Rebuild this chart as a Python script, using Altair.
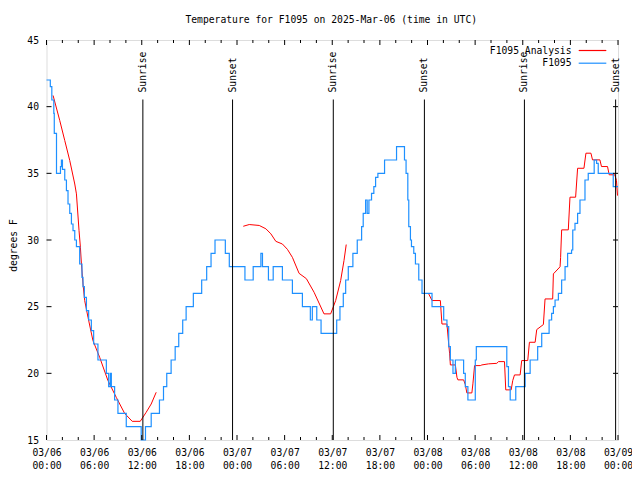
import altair as alt
import pandas as pd

# ---------------- data (hours since 2025-03-06 00:00 UTC) ----------------
blue_hours = [0, 0.48, 0.67, 0.92, 0.98, 1.26, 1.76, 1.88, 2.01, 2.3, 2.51, 2.71, 2.93, 3.14,
              3.34, 3.56, 3.77, 4.18, 4.47, 4.6, 4.77, 5.03, 5.31, 5.65, 5.94, 6.48, 7.54, 7.83,
              8.04, 8.17, 8.58, 9.0, 10.05, 11.93, 12.47, 13.19, 14.23, 14.74, 15.15, 15.7, 16.21,
              16.66, 17.16, 17.59, 18.5, 19.55, 20.18, 20.73, 21.23, 22.53, 23.03, 25.0, 26.04,
              27.01, 27.21, 27.96, 28.56, 29.72, 30.98, 32.24, 33.24, 33.49, 34.05, 34.59, 36.56,
              36.97, 37.39, 37.69, 38.02, 38.6, 39.15, 39.7, 39.9, 40.2, 40.4, 40.62, 40.95, 41.24,
              41.46, 41.75, 42.59, 44.1, 45.1, 45.3, 45.52, 45.64, 45.85, 45.98, 46.27, 46.48, 46.9,
              47.31, 48.57, 50.04, 50.45, 50.67, 50.88, 51.21, 51.51, 52.55, 52.76, 53.09, 54.02,
              54.15, 57.99, 58.2, 58.42, 59.12, 60.3, 60.93, 61.88, 62.39, 63.32, 63.64, 63.86,
              64.07, 64.49, 64.9, 65.33, 65.65, 66.15, 66.3, 66.58, 66.91, 67.21, 67.84, 68.25,
              69.0, 69.3, 69.51, 71.4, 72.0]
blue_temps = [42, 41.5, 40.5, 39.5, 38, 35, 35.5, 36, 35.3, 34.5, 33.7, 32.7, 32, 31.2,
              30.7, 30, 29.5, 28.2, 27.2, 26.5, 25.7, 24.7, 24, 23.2, 22.2, 21, 20, 19,
              20, 19, 18, 17, 16, 15, 16, 17, 18, 19, 20, 21, 22,
              23, 24, 25, 26, 27, 28, 29, 30, 29, 28, 27, 28,
              29, 28, 27, 28, 27, 26, 25, 24, 25, 24, 23, 24,
              25, 26, 27, 28, 29, 30, 31, 32, 33, 32, 33, 33.5, 34,
              34.7, 35, 36, 37, 36, 35, 33, 31, 30, 29.5, 29, 28.2, 27,
              26, 25, 24, 23.5, 22, 21, 20, 21, 20, 19, 18, 21,
              22, 20.5, 19, 18, 19, 20, 21, 22, 23, 24, 24.5, 25,
              25.5, 26, 27, 28, 29, 29.25, 30.75, 31.25, 32, 33, 34.5, 35,
              36, 35.75, 35, 34, 34]

red_hours = [0.83, 1.67, 2.3, 2.93, 3.56, 3.77, 4.1, 4.27, 4.4, 4.6, 4.81, 5.23, 5.85, 6.7,
             7.74, 8.79, 9.84, 10.8, 11.81, 12.56, 13.19, 13.82,
             24.79, 25.54, 26.8, 27.64, 28.27, 28.89, 29.72, 30.35, 30.98, 31.82, 32.74, 33.71,
             34.96, 35.8, 36.43, 37.06, 37.48, 37.76,
             48.15, 48.57, 49.62, 49.82, 50.45, 50.67, 50.79, 50.88, 51.51, 51.71, 51.83, 52.55,
             52.76, 52.96, 53.59, 53.72, 53.93, 54.65, 54.85, 55.69, 56.73, 56.95, 57.7, 57.86,
             58.54, 58.74, 58.96, 59.67, 59.87, 60.63, 60.84, 61.56, 61.76, 62.6, 62.81, 63.77,
             63.86, 64.7, 64.77, 64.9, 65.74, 65.95, 66.66, 66.91, 67.71, 67.96, 68.59, 68.79,
             69.72, 69.92, 70.68, 70.89, 71.6, 71.81, 71.94]
red_temps = [40.84, 38.96, 37.46, 35.96, 34.2, 33.46, 30.7, 29.46, 28.2, 26.7, 25.46, 24.2, 22.46, 21.2,
             19.46, 18.2, 17.0, 16.4, 16.4, 17.08, 17.7, 18.58,
             31.03, 31.16, 31.09, 30.84, 30.46, 29.9, 29.7, 29.3, 28.7, 27.5, 27.1, 26.08,
             24.46, 24.46, 25.46, 26.96, 28.46, 29.66,
             25.96, 25.46, 25.46, 23.7, 23.7, 22.2, 21.46, 20.63, 20.63, 19.7, 19.51, 19.51,
             19.16, 18.53, 18.53, 19.21, 20.58, 20.58, 20.63, 20.71, 20.75, 20.88, 20.88, 18.76,
             18.76, 19.46, 19.88, 19.88, 20.96, 20.96, 22.33, 22.33, 23.28, 23.66, 25.58, 25.58,
             27.46, 27.99, 28.7, 30.76, 30.76, 33.21, 33.21, 35.38, 35.38, 36.51, 36.51, 36.01,
             36.01, 35.51, 35.51, 34.89, 34.89, 34.46, 33.33]
red_segment = [1] * 22 + [2] * 18 + [3] * 55

sun_hours = [12.14, 23.44, 36.13, 47.61, 60.21, 71.7]
sun_labels = ["Sunrise", "Sunset", "Sunrise", "Sunset", "Sunrise", "Sunset"]

x_major = list(range(0, 73, 6))
x_minor = [h for h in range(0, 73, 2) if h % 6 != 0]
y_values = [15, 20, 25, 30, 35, 40, 45]
y_inner = [20, 25, 30, 35, 40]

legend_names = ["F1095 Analysis", "F1095"]
legend_colors = ["#ff0000", "#1e90ff"]

TITLE = "Temperature for F1095 on 2025-Mar-06 (time in UTC)"
FONT = "DejaVu Sans Mono"
FS = 9.7
W, H = 571.5, 400

# ---------------- frames ----------------
blue_df = pd.DataFrame({"h": blue_hours, "t": blue_temps})
red_df = pd.DataFrame({"h": red_hours, "t": red_temps, "seg": red_segment,
                       "i": list(range(len(red_hours)))})
sun_df = pd.DataFrame({"h": sun_hours, "label": sun_labels})
xmaj_df = pd.DataFrame({"h": x_major})
xmin_df = pd.DataFrame({"h": x_minor})
yin_df = pd.DataFrame({"t": y_inner})

xs = alt.Scale(domain=[0, 72], nice=False, zero=False)
ys = alt.Scale(domain=[15, 45], nice=False, zero=False)

x_axis = alt.Axis(
    values=x_major,
    labelExpr="['03/0' + (6 + floor(datum.value / 24)), (datum.value % 24 < 10 ? '0' : '') + (datum.value % 24) + ':00']",
    tickSize=0, domain=False, grid=False, labelFont=FONT, labelFontSize=FS,
    labelPadding=7, labelLineHeight=13, labelAngle=0, labelFlush=False,
    labelOverlap=False, labelColor="black", title=None,
)
y_axis = alt.Axis(
    values=y_values, tickSize=0, domain=False, grid=False, labelFont=FONT,
    labelFontSize=FS, labelPadding=8, labelColor="black", labelFlush=False,
    labelOverlap=False, title="degrees F", titleFont=FONT, titleFontSize=FS,
    titleFontWeight="normal", titleColor="black", titleX=-33, titleY=205,
    titleAngle=270, titleAlign="center", titleBaseline="middle",
)

red = alt.Chart(red_df).mark_line(color="#ff0000", strokeWidth=1).encode(
    x=alt.X("h:Q", scale=xs, axis=x_axis),
    y=alt.Y("t:Q", scale=ys, axis=y_axis),
    detail="seg:N",
    order="i:Q",
)
blue = alt.Chart(blue_df).mark_line(color="#1e90ff", strokeWidth=1.2,
                                     interpolate="step-after").encode(
    x=alt.X("h:Q", scale=xs), y=alt.Y("t:Q", scale=ys))

sun_rules = alt.Chart(sun_df).mark_rule(color="black", strokeWidth=1).encode(
    x=alt.X("h:Q", scale=xs), y=alt.value(59.5), y2=alt.value(H))
sun_text = alt.Chart(sun_df).mark_text(
    font=FONT, fontSize=FS, angle=270, align="left", baseline="middle", color="black"
).encode(x=alt.X("h:Q", scale=xs), y=alt.value(52.5), text="label:N")

tick_layers = []
for y0, y1 in [(H, H - 5), (0, 5)]:
    tick_layers.append(alt.Chart(xmaj_df).mark_rule(color="black").encode(
        x=alt.X("h:Q", scale=xs), y=alt.value(y0), y2=alt.value(y1)))
for y0, y1 in [(H, H - 3), (0, 3)]:
    tick_layers.append(alt.Chart(xmin_df).mark_rule(color="black").encode(
        x=alt.X("h:Q", scale=xs), y=alt.value(y0), y2=alt.value(y1)))
for x0, x1 in [(0, 5), (W, W - 5)]:
    tick_layers.append(alt.Chart(yin_df).mark_rule(color="black").encode(
        y=alt.Y("t:Q", scale=ys), x=alt.value(x0), x2=alt.value(x1)))

legend_layers = []
for k, (name, col) in enumerate(zip(legend_names, legend_colors)):
    yy = 10.5 + 12.7 * k
    legend_layers.append(alt.Chart(pd.DataFrame({"name": [name]})).mark_text(
        font=FONT, fontSize=FS, align="right", baseline="middle", color="black"
    ).encode(text="name:N", x=alt.value(W - 46.5), y=alt.value(yy)))
    legend_layers.append(alt.Chart(pd.DataFrame({"name": [name]})).mark_rule(
        color=col, strokeWidth=1.2
    ).encode(x=alt.value(W - 39.3), x2=alt.value(W - 11.7), y=alt.value(yy)))

title_layer = alt.Chart(pd.DataFrame({"title": [TITLE]})).mark_text(
    font=FONT, fontSize=FS, align="center", baseline="middle", color="black"
).encode(text="title:N", x=alt.value(W / 2 - 1), y=alt.value(-20.5))

chart = alt.layer(
    red, blue, sun_rules, sun_text, *tick_layers, *legend_layers, title_layer
).properties(
    width=W, height=H,
    autosize=alt.AutoSizeParams(type="none"),
    padding={"left": 38.5, "top": 32, "right": 14, "bottom": 32},
).configure_view(stroke="black", strokeWidth=1).configure(background="white")

chart.save("out.html", embed_options={"renderer": "svg", "actions": False})
